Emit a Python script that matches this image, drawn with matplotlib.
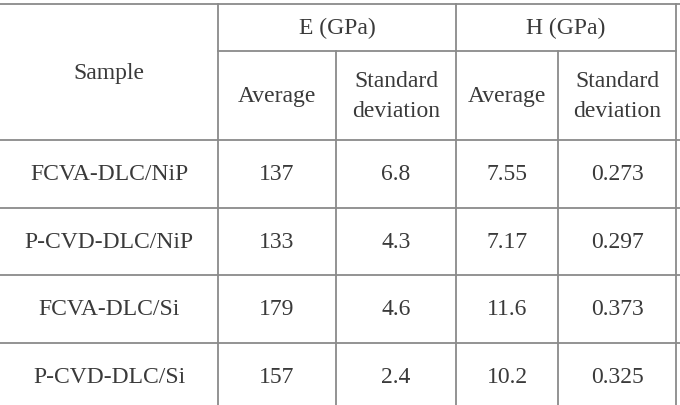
import matplotlib
matplotlib.use("Agg")
import matplotlib.pyplot as plt

samples = ["FCVA-DLC/NiP", "P-CVD-DLC/NiP", "FCVA-DLC/Si", "P-CVD-DLC/Si"]
e_avg = ["137", "133", "179", "157"]
e_sd = ["6.8", "4.3", "4.6", "2.4"]
h_avg = ["7.55", "7.17", "11.6", "10.2"]
h_sd = ["0.273", "0.297", "0.373", "0.325"]

W, H = 680, 406
fig = plt.figure(figsize=(6.8, 4.06), dpi=100)
ax = fig.add_axes([0, 0, 1, 1])
ax.set_xlim(0, W)
ax.set_ylim(H, 0)
ax.axis("off")

lc = "#8a8a8a"
lw = 1.3
tc = "#3a3a3a"
fs = 17
font = dict(family="Liberation Serif", fontsize=fs, color=tc, ha="center", va="center")

xs = [0, 218, 336, 456, 558, 676]
top, mid, hb = 5, 52, 141
row_h = 67.5
rows = [hb + i * row_h for i in range(5)]

ax.plot([0, W], [top, top], color=lc, lw=lw)
ax.plot([xs[1], xs[5]], [mid, mid], color=lc, lw=lw)
for y in rows[:4]:
    ax.plot([0, W], [y, y], color=lc, lw=lw)
for x in [xs[1], xs[3], xs[5]]:
    ax.plot([x, x], [top, H], color=lc, lw=lw)
for x in [xs[2], xs[4]]:
    ax.plot([x, x], [mid, H], color=lc, lw=lw)

ax.text((xs[0] + xs[1]) / 2, (top + hb) / 2, "Sample", **font)
ax.text((xs[1] + xs[3]) / 2, (top + mid) / 2, "E (GPa)", **font)
ax.text((xs[3] + xs[5]) / 2, (top + mid) / 2, "H (GPa)", **font)
sub = ["Average", "Standard\ndeviation", "Average", "Standard\ndeviation"]
for i, s in enumerate(sub):
    ax.text((xs[i + 1] + xs[i + 2]) / 2, (mid + hb) / 2, s, linespacing=1.6, **font)

for r in range(4):
    yc = (rows[r] + rows[r + 1]) / 2
    vals = [samples[r], e_avg[r], e_sd[r], h_avg[r], h_sd[r]]
    for c, v in enumerate(vals):
        ax.text((xs[c] + xs[c + 1]) / 2, yc, v, **font)

fig.savefig("out.png", dpi=100)
